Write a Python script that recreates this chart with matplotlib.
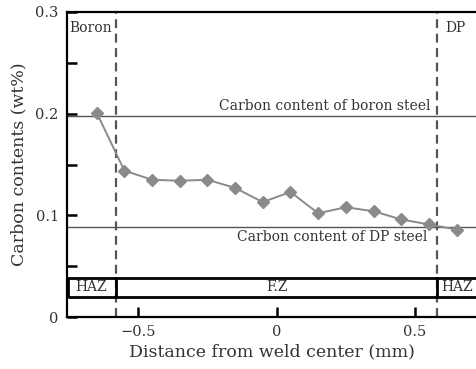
import numpy as np
import matplotlib.pyplot as plt
from matplotlib.patches import Rectangle
from matplotlib.ticker import MultipleLocator

plt.rcParams['font.family'] = ['DejaVu Serif']

# distance from weld center (mm) and carbon contents (wt%)
distance = [-0.65, -0.55, -0.45, -0.35, -0.25, -0.15, -0.05,
            0.05, 0.15, 0.25, 0.35, 0.45, 0.55, 0.65]
carbon = [0.201, 0.144, 0.135, 0.134, 0.135, 0.127, 0.113,
          0.123, 0.102, 0.108, 0.104, 0.096, 0.091, 0.086]

boron_level = 0.198
dp_level = 0.089
fusion_edges = [-0.58, 0.58]
zone_labels = ['HAZ', 'F.Z', 'HAZ']

fig = plt.figure(figsize=(4.76, 3.69), dpi=100)
ax = fig.add_axes([0.1408, 0.1409, 0.8592, 0.8266])

ax.set_xlim(-0.757, 0.72)
ax.set_ylim(0, 0.298)

ax.axhline(boron_level, color='#555555', lw=1.0)
ax.axhline(dp_level, color='#555555', lw=1.0)
for xe in fusion_edges:
    ax.axvline(xe, color='#555555', lw=1.6, ls=(0, (4, 2.5)))

ax.plot(distance, carbon, color='#8a8a8a', lw=1.4, marker='D',
        ms=6.5, mfc='#8a8a8a', mec='#8a8a8a', zorder=3)

# zone band
y0, y1 = 0.0195, 0.038
xl, xr = ax.get_xlim()
ax.add_patch(Rectangle((xl + 0.004, y0), xr - xl, y1 - y0, fill=False,
                       ec='black', lw=2, zorder=4, clip_on=True))
for xe in fusion_edges:
    ax.plot([xe, xe], [y0, y1], color='black', lw=2, zorder=4)
zone_x = [(xl + fusion_edges[0]) / 2, 0, (fusion_edges[1] + xr) / 2]
for zx, lab in zip(zone_x, zone_labels):
    ax.text(zx, (y0 + y1) / 2 + 0.0005, lab, ha='center', va='center',
            fontsize=10, color='#333333', zorder=5)

ax.text(0.555, boron_level + 0.003, 'Carbon content of boron steel',
        ha='right', va='bottom', fontsize=10, color='#333333')
ax.text(0.545, dp_level - 0.003, 'Carbon content of DP steel',
        ha='right', va='top', fontsize=10, color='#333333')
ax.text(-0.748, 0.284, 'Boron', ha='left', va='center', fontsize=10, color='#333333')
ax.text(0.61, 0.284, 'DP', ha='left', va='center', fontsize=10, color='#333333')

ax.set_xticks([-0.5, 0, 0.5])
ax.set_xticklabels(['\u22120.5', '0', '0.5'])
ax.set_yticks([0, 0.1, 0.2, 0.3])
ax.set_yticklabels(['0', '0.1', '0.2', '0.3'])
ax.yaxis.set_minor_locator(MultipleLocator(0.05))
ax.tick_params(axis='both', which='both', direction='in', length=7, width=1.8,
               labelsize=10.5, labelcolor='#333333', pad=6)
ax.tick_params(axis='x', which='minor', length=0)
ax.spines['right'].set_visible(False)
for s in ['left', 'bottom', 'top']:
    ax.spines[s].set_linewidth(1.6)

ax.set_xlabel('Distance from weld center (mm)', fontsize=12.5, color='#333333', labelpad=3)
ax.set_ylabel('Carbon contents (wt%)', fontsize=12.5, color='#333333', labelpad=6)

fig.savefig('out.png', dpi=100)
